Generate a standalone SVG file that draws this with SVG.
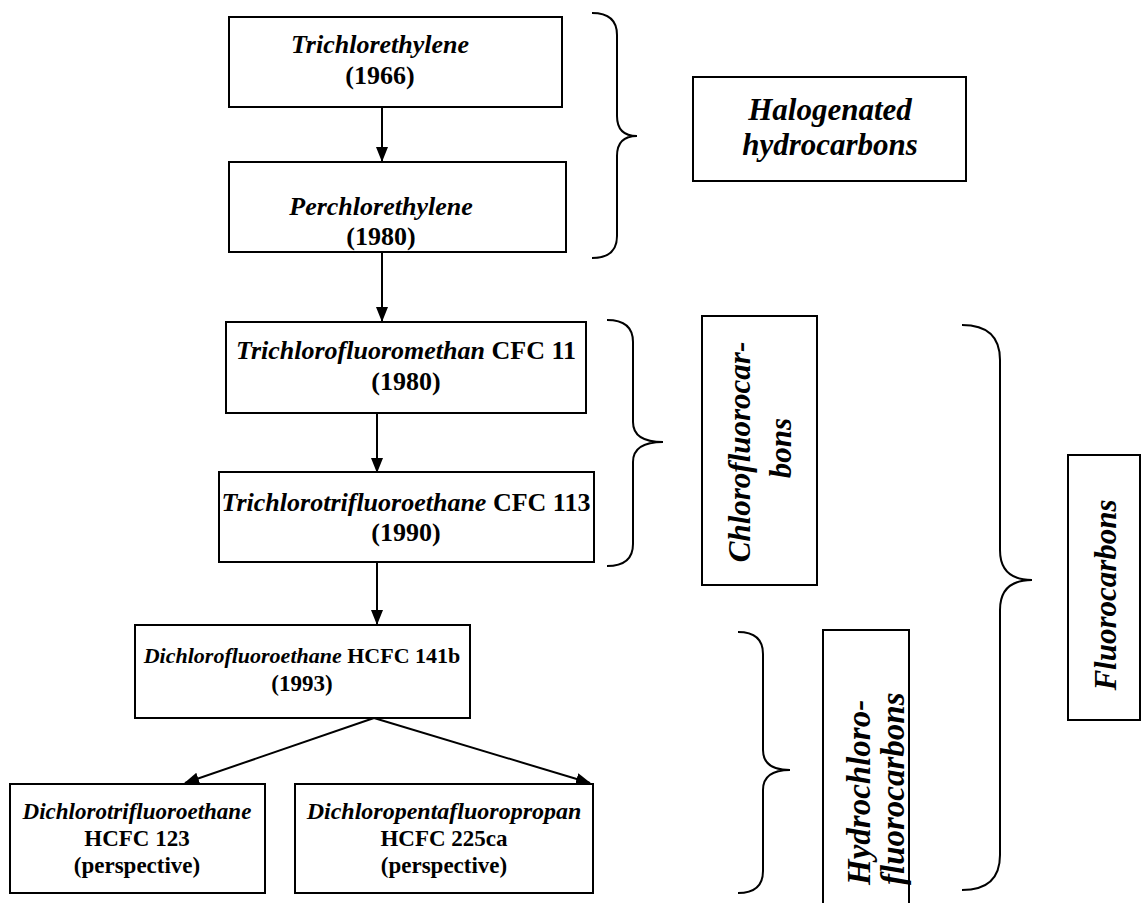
<svg xmlns="http://www.w3.org/2000/svg" width="1142" height="903" viewBox="0 0 1142 903">
<style>
.box{fill:#fff;stroke:#000;stroke-width:2}
.t{font-family:"Liberation Serif","Times New Roman",serif;font-weight:bold;fill:#000;text-anchor:middle}
.i{font-style:italic}
.c{stroke:#000;stroke-width:2;fill:none}
.br{stroke:#000;stroke-width:2;fill:none}
</style>
<defs>
<marker id="ah" markerWidth="15" markerHeight="13" refX="14" refY="6.5" orient="auto" markerUnits="userSpaceOnUse">
<path d="M0,0.5 L15,6.5 L0,12.5 Z" fill="#000"/>
</marker>
</defs>
<rect width="1142" height="903" fill="#fff"/>
<g id="connectors">
<line class="c" x1="382" y1="107" x2="382" y2="161" marker-end="url(#ah)"/>
<line class="c" x1="382" y1="252" x2="382" y2="321" marker-end="url(#ah)"/>
<line class="c" x1="377" y1="413" x2="377" y2="472" marker-end="url(#ah)"/>
<line class="c" x1="377" y1="562" x2="377" y2="624" marker-end="url(#ah)"/>
<line class="c" x1="374" y1="718" x2="185" y2="783" marker-end="url(#ah)"/>
<line class="c" x1="374" y1="718" x2="590" y2="783" marker-end="url(#ah)"/>
</g>
<g id="braces">
<path class="br" d="M592,13 Q617,13 617,35 L617,116 Q617,136 637,136 Q617,136 617,156 L617,236 Q617,258 592,258"/>
<path class="br" d="M607,320 Q633,320 633,342 L633,422 Q633,442 663,442 Q633,442 633,462 L633,544 Q633,566 607,566"/>
<path class="br" d="M738,632 Q763,632 763,654 L763,750 Q763,770 790,770 Q763,770 763,790 L763,871 Q763,893 738,893"/>
<path class="br" d="M962,325 Q1000,325 1000,360 L1000,550 Q1000,580 1032,580 Q1000,580 1000,610 L1000,855 Q1000,890 962,890"/>
</g>
<g id="n1">
<rect class="box" x="229" y="17" width="333" height="90"/>
<text class="t i" x="380" y="53" font-size="26">Trichlorethylene</text>
<text class="t" x="380" y="84" font-size="26">(1966)</text>
</g>
<g id="n2">
<rect class="box" x="229" y="162" width="337" height="90"/>
<text class="t i" x="381" y="215" font-size="26">Perchlorethylene</text>
<text class="t" x="381" y="245" font-size="26">(1980)</text>
</g>
<g id="n3">
<rect class="box" x="226" y="322" width="360" height="91"/>
<text class="t" x="406" y="359" font-size="26"><tspan font-style="italic">Trichlorofluoromethan</tspan> CFC 11</text>
<text class="t" x="406" y="390" font-size="26">(1980)</text>
</g>
<g id="n4">
<rect class="box" x="219" y="472" width="375" height="90"/>
<text class="t" x="406" y="511" font-size="26"><tspan font-style="italic">Trichlorotrifluoroethane</tspan> CFC 113</text>
<text class="t" x="406" y="541" font-size="26">(1990)</text>
</g>
<g id="n5">
<rect class="box" x="135" y="625" width="335" height="93"/>
<text class="t" x="302" y="663" font-size="22"><tspan font-style="italic">Dichlorofluoroethane</tspan> HCFC 141b</text>
<text class="t" x="302" y="691" font-size="23">(1993)</text>
</g>
<g id="n6">
<rect class="box" x="10" y="784" width="255" height="109"/>
<text class="t i" x="137" y="819" font-size="23">Dichlorotrifluoroethane</text>
<text class="t" x="137" y="846" font-size="23">HCFC 123</text>
<text class="t" x="137" y="873" font-size="23">(perspective)</text>
</g>
<g id="n7">
<rect class="box" x="295" y="784" width="298" height="109"/>
<text class="t i" x="444" y="819" font-size="24">Dichloropentafluoropropan</text>
<text class="t" x="444" y="846" font-size="23">HCFC 225ca</text>
<text class="t" x="444" y="873" font-size="23">(perspective)</text>
</g>
<g id="g-halo">
<rect class="box" x="693" y="77" width="273" height="104"/>
<text class="t i" x="830" y="120" font-size="31">Halogenated</text>
<text class="t i" x="830" y="155" font-size="31">hydrocarbons</text>
</g>
<g id="g-cfc">
<rect class="box" x="702" y="316" width="115" height="269"/>
<text class="t i" font-size="31" transform="translate(750,452) rotate(-90)">Chlorofluorocar-</text>
<text class="t i" font-size="31" transform="translate(791,448) rotate(-90)">bons</text>
</g>
<g id="g-hcfc">
<rect class="box" x="823" y="630" width="86" height="280"/>
<text class="t i" font-size="33" transform="translate(870,885) rotate(-90)" style="text-anchor:start">Hydrochloro-</text>
<text class="t i" font-size="33" transform="translate(904,885) rotate(-90)" style="text-anchor:start">fluorocarbons</text>
</g>
<g id="g-fc">
<rect class="box" x="1068" y="455" width="72" height="265"/>
<text class="t i" font-size="31" transform="translate(1116,595) rotate(-90)">Fluorocarbons</text>
</g>
</svg>
